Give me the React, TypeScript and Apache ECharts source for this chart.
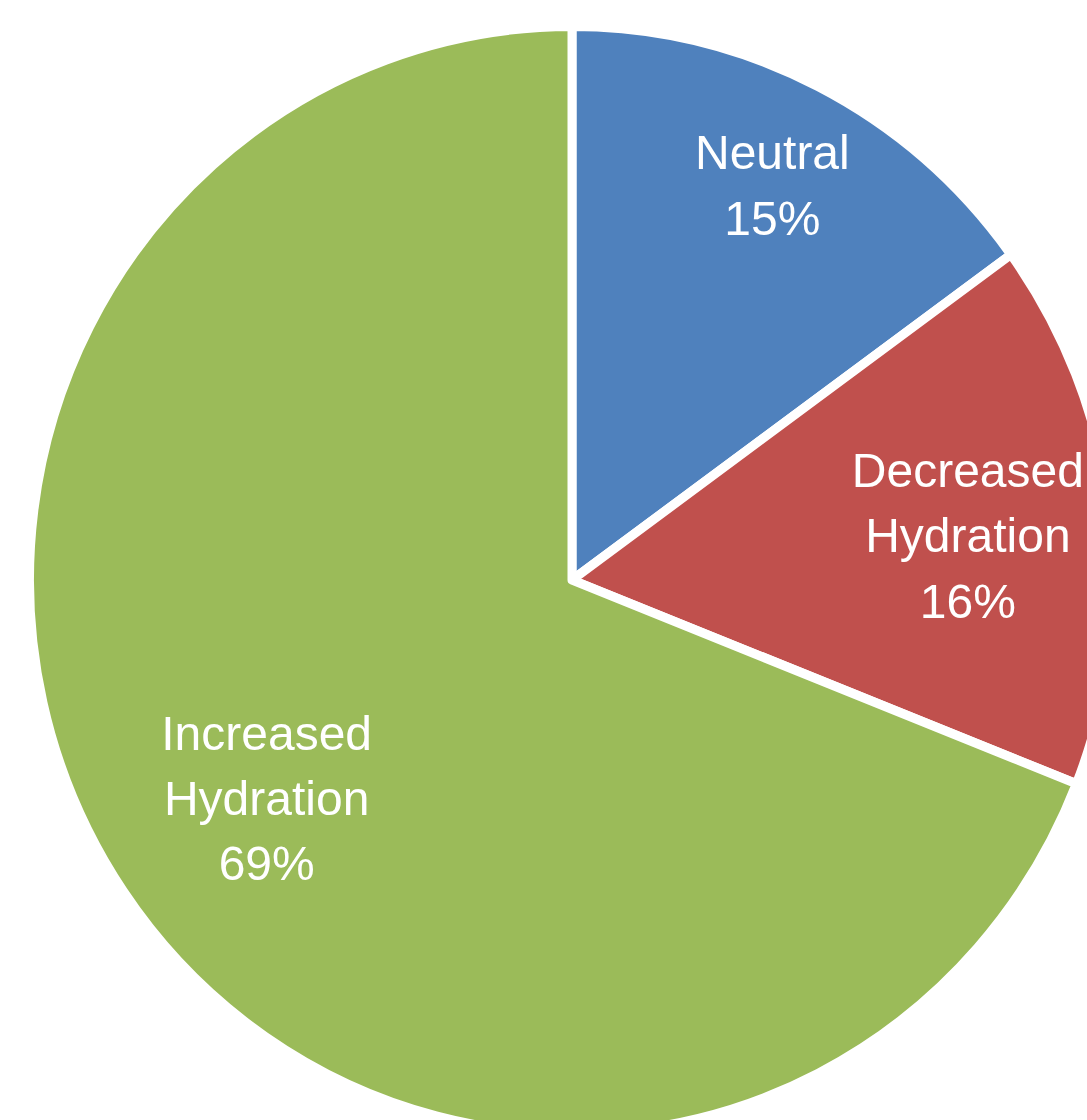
import React, { useEffect, useRef } from "react";
import * as echarts from "echarts";

const categories = ["Neutral", "Decreased\nHydration", "Increased\nHydration"];
const values = [15, 16, 69];
const colors = ["#4F81BD", "#C0504D", "#9BBB59"];
// fraction of the radius at which each label sits
const labelRadiusFraction = [0.808, 0.73, 0.675];

const CX = 572;
const CY = 580;
const R = 542.5;
const STRETCH_Y = 1.0204;
const LABEL_SHIFT_Y = 6;

export default function App() {
  const ref = useRef<HTMLDivElement>(null);

  useEffect(() => {
    if (!ref.current) return;
    const chart = echarts.init(ref.current, null, { renderer: "svg" });
    const total = values.reduce((a, b) => a + b, 0);
    const midAngles: number[] = [];
    let acc = 0;
    values.forEach((v) => {
      const mid = ((acc + v / 2) / total) * Math.PI * 2;
      midAngles.push(mid);
      acc += v;
    });

    chart.setOption({
      animation: false,
      backgroundColor: "#ffffff",
      series: [
        {
          type: "pie",
          center: [CX, CY],
          radius: [0, R],
          startAngle: 90,
          clockwise: true,
          avoidLabelOverlap: false,
          silent: true,
          itemStyle: { borderColor: "#ffffff", borderWidth: 9 },
          label: {
            show: true,
            position: "inside",
            formatter: "{b}\n{d}%",
            color: "#ffffff",
            fontFamily: "Liberation Sans, Arial, sans-serif",
            fontSize: 48,
            lineHeight: 64,
            align: "center",
          },
          labelLine: { show: false },
          labelLayout: (params: any) => {
            const i = params.dataIndex;
            const th = midAngles[i];
            const extra = (labelRadiusFraction[i] - 0.5) * R;
            return {
              dx: Math.sin(th) * extra,
              dy: -Math.cos(th) * extra + LABEL_SHIFT_Y,
            };
          },
          data: categories.map((name, i) => ({
            name,
            value: values[i],
            itemStyle: { color: colors[i] },
          })),
        },
      ],
    });
    return () => chart.dispose();
  }, []);

  return (
    <div
      ref={ref}
      style={{
        position: "absolute",
        left: 0,
        top: 0,
        width: 1087,
        height: 1120,
        transform: `scaleY(${STRETCH_Y})`,
        transformOrigin: `${CX}px ${CY}px`,
      }}
    />
  );
}
